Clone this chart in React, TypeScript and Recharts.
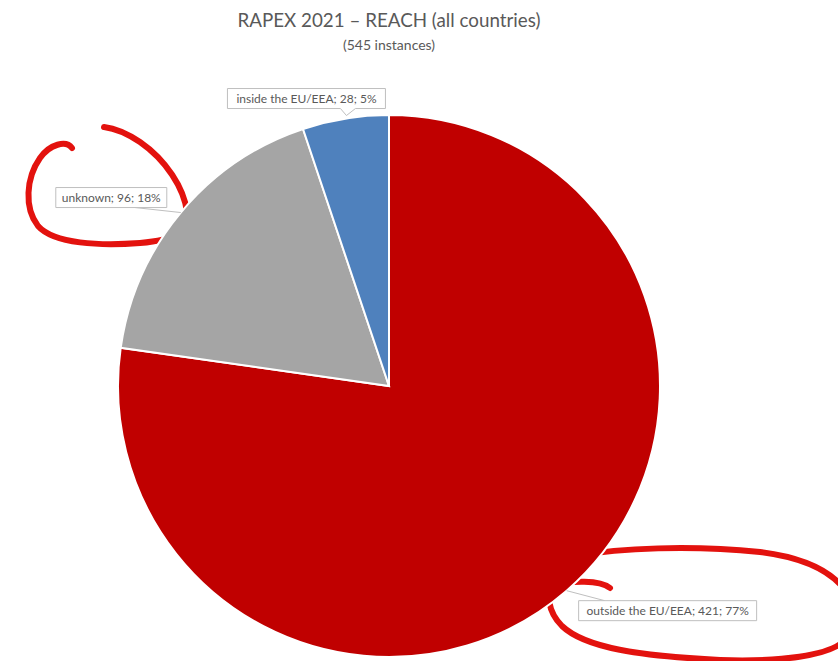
import React from "react";
import { PieChart, Pie, Cell, Customized } from "recharts";

const categories = ["outside the EU/EEA", "unknown", "inside the EU/EEA"];
const counts = [421, 96, 28];
const percentLabels = ["77%", "18%", "5%"];
const colors = ["#C00000", "#A5A5A5", "#4F81BD"];

const data = categories.map((name, i) => ({ name, value: counts[i], pct: percentLabels[i] }));

// label box placement relative to anchor point on the slice edge (style only)
const labelBoxes = [
  { dx: 12, dy: 10, w: 178, h: 20, leader: [38, 10] },
  { dx: -125, dy: -25, w: 111, h: 20, leader: [-55, -6] },
  { dx: -118, dy: -30, w: 158, h: 20, leader: null },
];

const FONT = "Lato, 'Open Sans', sans-serif";
const RAD = Math.PI / 180;

const renderLabel = (props: any) => {
  const { cx, cy, midAngle, outerRadius, index } = props;
  const ax = cx + outerRadius * Math.cos(-midAngle * RAD);
  const ay = cy + outerRadius * Math.sin(-midAngle * RAD);
  const b = labelBoxes[index];
  const x = ax + b.dx;
  const y = ay + b.dy;
  const text = `${data[index].name}; ${data[index].value}; ${data[index].pct}`;
  let boxPath: string;
  if (b.leader === null) {
    const nx = ax;
    boxPath = `M${x},${y} H${x + b.w} V${y + b.h} H${nx + 10} L${nx + 1},${ay - 3} L${nx - 5},${y + b.h} H${x} Z`;
  } else {
    boxPath = `M${x},${y} H${x + b.w} V${y + b.h} H${x} Z`;
  }
  return (
    <g key={`lbl-${index}`}>
      {b.leader && (
        <line
          x1={ax}
          y1={ay}
          x2={ax + b.leader[0]}
          y2={ay + b.leader[1]}
          stroke="#BFBFBF"
          strokeWidth={1}
        />
      )}
      <path d={boxPath} fill="#FFFFFF" stroke="#BFBFBF" strokeWidth={1} />
      <text
        x={x + b.w / 2}
        y={y + b.h / 2 + 4}
        textAnchor="middle"
        fontFamily={FONT}
        fontSize={12}
        fill="#595959"
      >
        {text}
      </text>
    </g>
  );
};

const Annotations = () => (
  <g fill="none" stroke="#E3120E" strokeWidth={6} strokeLinecap="round" strokeLinejoin="round">
    <path d="M72,148 C66,140 50,144 40,158 C26,178 24,208 38,226 C54,244 100,246 140,243 C175,240 190,232 187,212 C184,188 166,160 140,142 C125,132 112,128 104,127" />
    <path d="M610,588 C600,580 570,580 555,586 C545,592 548,612 562,626 C585,648 640,656 720,660 C780,662 830,656 845,640" />
    <path d="M576,556 C620,548 690,545 760,552 C800,557 830,570 845,590" />
  </g>
);

export default function App() {
  return (
    <div style={{ position: "absolute", left: 0, top: 0, width: 838, height: 661, background: "#fff" }}>
      <PieChart width={838} height={661} margin={{ top: 0, right: 0, bottom: 0, left: 0 }}>
        <text x={389} y={27} textAnchor="middle" fontFamily={FONT} fontSize={18.8} fill="#595959">
          RAPEX 2021 – REACH (all countries)
        </text>
        <text x={389} y={50} textAnchor="middle" fontFamily={FONT} fontSize={14} fill="#595959">
          (545 instances)
        </text>
        <Pie
          data={data}
          dataKey="value"
          nameKey="name"
          cx={389}
          cy={386}
          outerRadius={271}
          startAngle={90}
          endAngle={-270}
          stroke="#FFFFFF"
          strokeWidth={2}
          isAnimationActive={false}
          label={renderLabel}
          labelLine={false}
        >
          {data.map((d, i) => (
            <Cell key={d.name} fill={colors[i]} />
          ))}
        </Pie>
        <Customized component={Annotations} />
      </PieChart>
    </div>
  );
}
